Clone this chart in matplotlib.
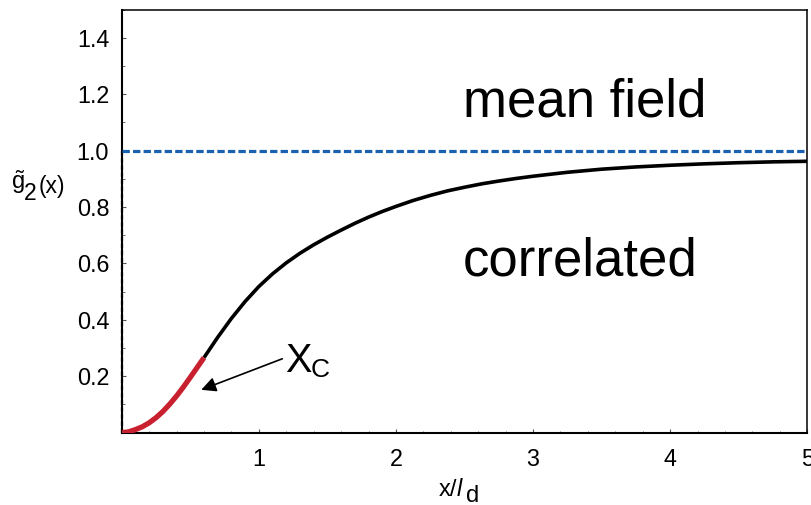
import matplotlib
matplotlib.use("Agg")
import matplotlib.pyplot as plt
from matplotlib.ticker import MultipleLocator, FixedLocator

plt.rcParams['font.family'] = ['Liberation Sans', 'DejaVu Sans']
plt.rcParams['mathtext.fontset'] = 'custom'
plt.rcParams['mathtext.rm'] = 'Liberation Sans'
plt.rcParams['mathtext.it'] = 'Liberation Sans:italic'

# ---- data ----
red_x = [0.0, 0.05, 0.1, 0.15, 0.2, 0.25, 0.3, 0.35, 0.4, 0.45, 0.5, 0.55, 0.6]
red_y = [0.0, 0.003, 0.011, 0.021, 0.035, 0.053, 0.075, 0.101, 0.130, 0.162,
         0.196, 0.231, 0.266]

black_x = [0.6, 0.7, 0.8, 0.9, 1.0, 1.1, 1.2, 1.3, 1.4, 1.5, 1.6, 1.7, 1.8, 1.9,
           2.0, 2.125, 2.25, 2.375, 2.5, 2.625, 2.75, 2.875, 3.0, 3.25, 3.5,
           3.75, 4.0, 4.25, 4.5, 4.75, 5.0]
black_y = [0.266, 0.338, 0.405, 0.465, 0.518, 0.563, 0.602, 0.636, 0.666, 0.693,
           0.718, 0.742, 0.764, 0.784, 0.802, 0.823, 0.841, 0.857, 0.870, 0.882,
           0.892, 0.901, 0.909, 0.923, 0.934, 0.942, 0.948, 0.953, 0.957, 0.960,
           0.962]

mean_field_x = [0.0, 5.0]
mean_field_y = [1.0, 1.0]

xticks = [1, 2, 3, 4, 5]
xtick_labels = ["1", "2", "3", "4", "5"]
yticks = [0.2, 0.4, 0.6, 0.8, 1.0, 1.2, 1.4]
ytick_labels = ["0.2", "0.4", "0.6", "0.8", "1.0", "1.2", "1.4"]

W, H = 812, 505
fig = plt.figure(figsize=(W / 100, H / 100), dpi=100)
ax = fig.add_axes([121.7 / W, 1 - 432.7 / H, (807.3 - 121.7) / W, (432.7 - 9.5) / H])

ax.set_xlim(0, 5)
ax.set_ylim(0, 1.5)

# vertical dashed line at x=0 and mean-field level
ax.plot([0, 0], [0, 1.0], color='black', lw=1.6, ls=(0, (2, 1.2)), clip_on=False, zorder=3)
ax.plot(mean_field_x, mean_field_y, color='#1a62b0', lw=2.3, ls=(0, (2.3, 1.0)),
        clip_on=False, zorder=3)

ax.plot(black_x, black_y, color='black', lw=2.6, solid_capstyle='butt',
        solid_joinstyle='round', zorder=4)
ax.plot(red_x, red_y, color='#c8202e', lw=3.8, solid_capstyle='butt',
        solid_joinstyle='round', zorder=5)

# annotation arrow
ax.annotate("", xy=(0.58, 0.152), xytext=(1.171, 0.262),
            arrowprops=dict(arrowstyle='-|>', color='black', lw=1.2,
                            mutation_scale=22, shrinkA=0, shrinkB=0))
ax.text(1.19, 0.2165, "X", fontsize=28.5, ha='left', va='baseline')
ax.text(1.375, 0.1967, "C", fontsize=19, ha='left', va='baseline')

ax.text(2.49, 1.122, "mean field", fontsize=38, ha='left', va='baseline')
ax.text(2.49, 0.557, "correlated", fontsize=38, ha='left', va='baseline')

# ticks
ax.xaxis.set_major_locator(FixedLocator(xticks))
ax.set_xticklabels(xtick_labels)
ax.xaxis.set_minor_locator(MultipleLocator(0.2))
ax.yaxis.set_major_locator(FixedLocator(yticks))
ax.set_yticklabels(ytick_labels)
ax.yaxis.set_minor_locator(MultipleLocator(0.1))
ax.tick_params(which='both', direction='in', top=False, right=False,
               colors='#555555', labelcolor='black')
ax.tick_params(which='major', length=3, width=0.8, labelsize=16.8)
ax.tick_params(axis='x', which='major', pad=11)
ax.tick_params(axis='y', which='major', pad=9)
ax.tick_params(which='minor', length=1.8, width=0.6)

for side in ['left', 'bottom']:
    ax.spines[side].set_linewidth(1.5)
for side in ['top', 'right']:
    ax.spines[side].set_linewidth(1.1)
for s in ax.spines.values():
    s.set_color('black')

# x label: x/l_d
fig.text(438.5 / W, 1 - 496.0 / H, "x/", fontsize=17, ha='left', va='baseline')
fig.text(456.5 / W, 1 - 496.0 / H, "l", fontsize=17, style='italic', ha='left', va='baseline')
fig.text(466.0 / W, 1 - 502.0 / H, "d", fontsize=17, ha='left', va='baseline')

# y label: g~_2(x)
fig.text(11.0 / W, 1 - 188.5 / H, r"$\tilde{\mathrm{g}}$", fontsize=17, ha='left', va='baseline')
fig.text(24.0 / W, 1 - 200.0 / H, "2", fontsize=16.5, ha='left', va='baseline')
fig.text(39.0 / W, 1 - 193.0 / H, "(x)", fontsize=16.5, ha='left', va='baseline')

fig.savefig("out.png", dpi=100)
